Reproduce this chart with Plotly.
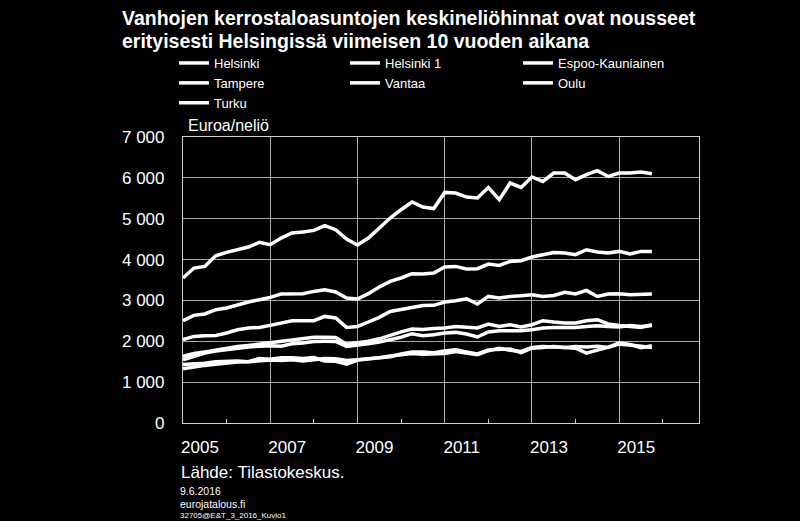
import plotly.graph_objects as go

# Quarterly observations 2005Q1 .. 2015Q4 (44 quarters)
quarters = [2005 + q / 4 for q in range(44)]

names = ["Helsinki", "Helsinki 1", "Espoo-Kauniainen", "Tampere", "Vantaa", "Oulu", "Turku"]

helsinki = [2505, 2634, 2668, 2773, 2814, 2895, 2961, 3018, 3074, 3157, 3165, 3165,
            3221, 3262, 3206, 3059, 3035, 3165, 3328, 3466, 3549, 3654, 3647, 3670,
            3818, 3833, 3769, 3777, 3891, 3857, 3955, 3972, 4063, 4119, 4175, 4160,
            4119, 4241, 4185, 4160, 4200, 4136, 4200, 4200]
helsinki_1 = [3549, 3793, 3833, 4094, 4176, 4241, 4307, 4421, 4364, 4527, 4650, 4674,
              4714, 4829, 4731, 4503, 4356, 4527, 4772, 5017, 5220, 5409, 5286, 5250,
              5644, 5629, 5531, 5507, 5766, 5465, 5874, 5766, 6021, 5913, 6118, 6118,
              5955, 6077, 6175, 6035, 6118, 6118, 6143, 6101]
espoo = [2039, 2120, 2137, 2144, 2203, 2283, 2325, 2340, 2389, 2447, 2504, 2504,
         2504, 2609, 2570, 2340, 2364, 2472, 2585, 2731, 2773, 2829, 2878, 2880,
         2961, 2993, 3042, 2912, 3098, 3059, 3098, 3115, 3140, 3098, 3123, 3197,
         3157, 3245, 3098, 3157, 3165, 3140, 3157, 3157]
tampere = [1630, 1700, 1740, 1790, 1835, 1870, 1900, 1930, 1960, 1990, 2030, 2060,
           2096, 2096, 2090, 1930, 1960, 2000, 2060, 2150, 2230, 2300, 2290, 2310,
           2325, 2364, 2349, 2325, 2423, 2364, 2406, 2349, 2406, 2504, 2472, 2447,
           2447, 2504, 2528, 2423, 2389, 2364, 2340, 2406]
vantaa = [1549, 1640, 1713, 1760, 1800, 1835, 1860, 1880, 1892, 1880, 1941, 1960,
          1997, 2000, 1997, 1875, 1900, 1941, 1980, 2039, 2100, 2186, 2137, 2160,
          2203, 2218, 2178, 2105, 2227, 2259, 2259, 2259, 2283, 2325, 2340, 2340,
          2340, 2364, 2380, 2364, 2349, 2389, 2364, 2389]
oulu = [1430, 1440, 1460, 1500, 1510, 1520, 1500, 1580, 1560, 1600, 1600, 1580,
        1600, 1520, 1510, 1440, 1540, 1560, 1580, 1620, 1690, 1740, 1740, 1720,
        1760, 1790, 1740, 1690, 1790, 1810, 1810, 1720, 1830, 1850, 1870, 1850,
        1830, 1710, 1790, 1870, 1930, 1910, 1870, 1850]
turku = [1330, 1380, 1410, 1440, 1470, 1490, 1500, 1520, 1540, 1530, 1550, 1520,
         1560, 1580, 1570, 1530, 1550, 1570, 1600, 1640, 1680, 1700, 1680, 1680,
         1700, 1750, 1700, 1670, 1770, 1830, 1780, 1750, 1850, 1870, 1860, 1850,
         1870, 1860, 1880, 1850, 1960, 1920, 1840, 1890]

series = [helsinki, helsinki_1, espoo, tampere, vantaa, oulu, turku]
# legend column of each series (three columns, filled row by row)
legend_cols = ["legend", "legend2", "legend3", "legend", "legend2", "legend3", "legend"]

title_line1 = "Vanhojen kerrostaloasuntojen keskineliöhinnat ovat nousseet"
title_line2 = "erityisesti Helsingissä viimeisen 10 vuoden aikana"
unit_text = "Euroa/neliö"
source_text = "Lähde: Tilastokeskus."
date_text = "9.6.2016"
site_text = "eurojatalous.fi"
code_text = "32705@E&T_3_2016_Kuvio1"

W, H = 800, 521
L, R, T, B = 183, 101, 137, 98
fig = go.Figure()
for name, vals, lg in zip(names, series, legend_cols):
    fig.add_trace(go.Scatter(x=quarters, y=vals, name=name, mode="lines",
                             legend=lg, line=dict(color="white", width=3.5)))

font_main = "Liberation Sans, Arial, sans-serif"

def legend_at(x_px):
    return dict(orientation="v", xref="container", yref="container",
                x=x_px / W, xanchor="left", y=1 - 48 / H, yanchor="top",
                itemwidth=30, font=dict(size=13, color="white"),
                bgcolor="rgba(0,0,0,0)", tracegroupgap=0, borderwidth=0)

fig.update_layout(
    width=W, height=H,
    paper_bgcolor="black", plot_bgcolor="black",
    margin=dict(l=L, r=R, t=T, b=B, autoexpand=False),
    separators=", ",
    font=dict(family=font_main, color="white", size=15),
    legend=legend_at(174),
    legend2=legend_at(345),
    legend3=legend_at(518),
    showlegend=True,
)
fig.update_xaxes(range=[2005, 2016.83], tick0=2005, dtick=2, showgrid=True,
                 gridcolor="#a6a6a6", gridwidth=1, ticks="", tickformat="d",
                 ticklabelshift=17, ticklabelstandoff=8,
                 tickfont=dict(size=17, color="white"),
                 showline=True, linecolor="#d0d0d0", linewidth=1.2, mirror=True,
                 zeroline=False,
                 minor=dict(dtick=1, tick0=2005, ticks="inside", ticklen=4,
                            tickcolor="#d0d0d0", showgrid=False))
fig.update_yaxes(range=[0, 7000], dtick=1000, showgrid=True, gridcolor="#a6a6a6",
                 gridwidth=1, ticks="", tickformat=",", ticklabelstandoff=14,
                 tickfont=dict(size=17, color="white"),
                 showline=True, linecolor="#d0d0d0", linewidth=1.2, mirror=True,
                 zeroline=False)

def ann(text, x_px, y_px, size, bold=False):
    fig.add_annotation(text=text, xref="paper", yref="paper",
                       x=(x_px - L) / (W - L - R), y=(H - B - y_px) / (H - T - B),
                       xanchor="left", yanchor="middle", showarrow=False,
                       font=dict(size=size, color="white", family=font_main,
                                 weight="bold" if bold else "normal"))

ann(title_line1, 120, 18, 19.5, bold=True)
ann(title_line2, 120, 41, 19.5, bold=True)
ann(unit_text, 186, 125, 16)
ann(source_text, 179, 472, 17)
ann(date_text, 178, 491, 10.5)
ann(site_text, 178, 504, 10.5)
ann(code_text, 178, 515, 8)

fig.write_html("out.html")
